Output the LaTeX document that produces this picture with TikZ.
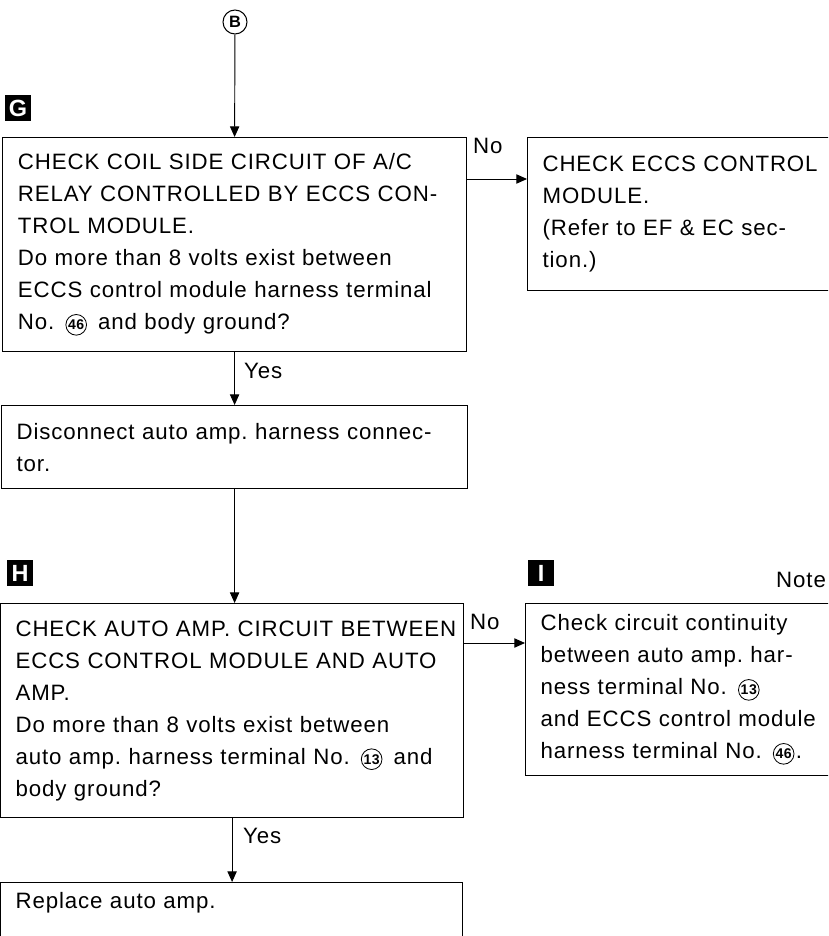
\documentclass[tikz,border=0pt]{standalone}
\usepackage{fontspec}
\setmainfont[LetterSpace=4]{Liberation Sans}
\usetikzlibrary{arrows.meta, positioning}

% circled terminal numbers
\newcommand\circnum[1]{\,\tikz[baseline=(n.base)]\node[circle, draw, line width=0.7pt,
    inner sep=0pt, minimum size=0.62cm, font=\fontsize{12}{12}\selectfont\bfseries] (n) {#1};\,}

\begin{document}
\frenchspacing
\begin{tikzpicture}[
    x=0.03cm, y=-0.03cm,
    font=\fontsize{19}{27.3}\selectfont,
    flow/.style={-{Triangle[length=0.32cm, width=0.28cm]}, line width=0.8pt},
    stepbox/.style={draw, line width=1pt, anchor=north west, align=left,
        inner xsep=0.45cm, inner ysep=0.2cm},
    tag/.style={fill=black, text=white, minimum size=0.8cm, inner sep=0pt,
        font=\fontsize{20}{20}\selectfont\bfseries},
    answer/.style={anchor=base west, inner sep=0pt},
]
\useasboundingbox (0,0) rectangle (828,936);
\clip (0,0) rectangle (828,936);

% --- Entry point ---
\node (refB) [circle, draw, line width=0.9pt, minimum size=0.72cm, inner sep=0pt,
    font=\fontsize{14}{14}\selectfont\bfseries] at (235,22) {B};

% --- Step G ---
\node (tagG) [tag] at (18,108) {G};
\node (boxG) [stepbox, minimum width=13.92cm, minimum height=6.42cm, text width=13.0cm] at (2,137)
    {CHECK COIL SIDE CIRCUIT OF A/C\\
     RELAY CONTROLLED BY ECCS CON-\\
     TROL MODULE.\\
     Do more than 8 volts exist between\\
     ECCS control module harness terminal\\
     No. \circnum{46} and body ground?};
\node (eccs) [stepbox, minimum width=9.8cm, minimum height=4.59cm, text width=8.9cm] at (527,137)
    {CHECK ECCS CONTROL\\
     MODULE.\\
     (Refer to EF \& EC sec-\\
     tion.)};
\node (disc) [stepbox, minimum width=13.98cm, minimum height=2.49cm, text width=13.08cm] at (1,405)
    {Disconnect auto amp. harness connec-\\
     tor.};

% --- Step H ---
\node (tagH) [tag] at (20,573) {H};
\node (boxH) [stepbox, minimum width=13.89cm, minimum height=6.42cm, text width=12.99cm] at (0,603)
    {\mbox{CHECK AUTO AMP. CIRCUIT BETWEEN}\\
     ECCS CONTROL MODULE AND AUTO\\
     AMP.\\
     Do more than 8 volts exist between\\
     \mbox{auto amp. harness terminal No. \circnum{13} and}\\
     body ground?};

% --- Step I ---
\node (tagI) [tag] at (541,573) {I};
\node (note) [answer] at (776,587) {Note};
\node (boxI) [stepbox, minimum width=9.9cm, minimum height=5.16cm, text width=9.0cm] at (525,603)
    {Check circuit continuity\\
     between auto amp. har-\\
     ness terminal No. \circnum{13}\\
     and ECCS control module\\
     harness terminal No. \circnum{46}\kern-2pt.};
\node (repl) [stepbox, minimum width=13.86cm, text width=12.96cm, text depth=1.6cm,
    inner ysep=0.3cm] at (0,882) {Replace auto amp.};

% --- Connectors ---
\draw [flow] (refB) -- (boxG.north);
\draw [flow] ([yshift=-1.26cm]boxG.north east) -- ([yshift=-1.26cm]boxG.north east -| eccs.west);
\draw [flow] (boxG.south) -- (boxG.south |- disc.north);
\draw [flow] (disc.south) -- (disc.south |- boxH.north);
\draw [flow] ([yshift=-1.2cm]boxH.north east) -- ([yshift=-1.2cm]boxH.north east -| boxI.west);
\draw [flow] (boxH.south) -- (boxH.south |- repl.north);

% --- Answers ---
\node (noG) [answer] at (473,154) {No};
\node (yesG) [answer] at (244,378) {Yes};
\node (noH) [answer] at (470,629) {No};
\node (yesH) [answer] at (243,843) {Yes};

\end{tikzpicture}
\end{document}
